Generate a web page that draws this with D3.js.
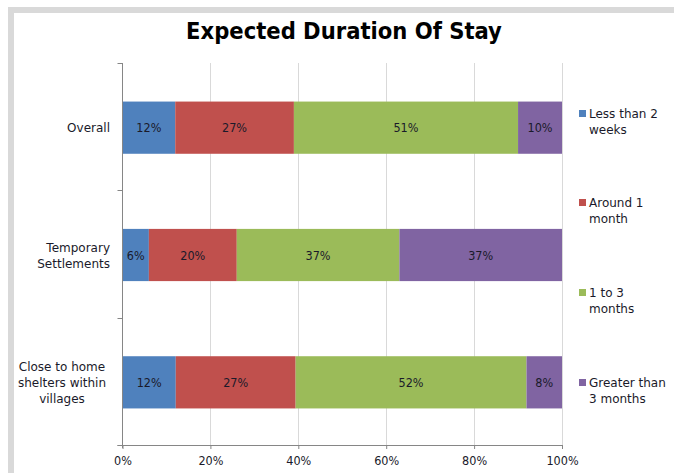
<!DOCTYPE html>
<html><head><meta charset="utf-8">
<script src="https://cdn.jsdelivr.net/npm/d3@7"></script>
<style>
html,body{margin:0;padding:0;background:#fff;}
svg{display:block;font-family:"DejaVu Sans",sans-serif;}
</style></head>
<body>
<script>
const categories = ["Overall", "Temporary Settlements", "Close to home shelters within villages"];
const categoryLines = [["Overall"], ["Temporary", "Settlements"], ["Close to home", "shelters within", "villages"]];
const seriesNames = ["Less than 2 weeks", "Around 1 month", "1 to 3 months", "Greater than 3 months"];
const legendLines = [["Less than 2", "weeks"], ["Around 1", "month"], ["1 to 3", "months"], ["Greater than", "3 months"]];
const lessThan2Weeks = [12, 6, 12];
const around1Month = [27, 20, 27];
const oneTo3Months = [51, 37, 52];
const greaterThan3Months = [10, 37, 8];
const tickValues = [0, 0.2, 0.4, 0.6, 0.8, 1.0];
const colors = ["#4f81bd", "#c0504d", "#9bbb59", "#8064a2"];

(function () {
const W = 674, H = 473;
const cond = "DejaVu Sans Condensed, DejaVu Sans, sans-serif";
const svg = d3.select("body").append("svg").attr("width", W).attr("height", H);

// outer frame
svg.append("rect").attr("x", 11).attr("y", 10).attr("width", W + 20).attr("height", H + 20)
  .attr("fill", "none").attr("stroke", "#d9d9d9").attr("stroke-width", 6);

svg.append("text").attr("x", 344).attr("y", 39).attr("text-anchor", "middle")
  .attr("font-size", 23.5).attr("font-weight", "bold").attr("font-family", cond).attr("fill", "#000")
  .text("Expected Duration Of Stay");

const pLeft = 122.5, pRight = 562, pTop = 63, pBottom = 445;
const x = d3.scaleLinear().domain([0, 1]).range([pLeft, pRight]);
const y = d3.scaleBand().domain(categories).range([pTop + 1, pBottom + 1]).paddingInner(0.59).paddingOuter(0.295);

// gridlines
svg.append("g").selectAll("line").data(tickValues.slice(1)).join("line")
  .attr("x1", d => Math.round(x(d)) + 0.5).attr("x2", d => Math.round(x(d)) + 0.5)
  .attr("y1", pTop).attr("y2", pBottom).attr("stroke", "#d9d9d9").attr("stroke-width", 1);

const series = [lessThan2Weeks, around1Month, oneTo3Months, greaterThan3Months];
const rows = categories.map((c, i) => {
  const o = { cat: c };
  series.forEach((s, j) => o["s" + j] = s[i]);
  return o;
});
const keys = series.map((s, j) => "s" + j);
const stacked = d3.stack().keys(keys).offset(d3.stackOffsetExpand)(rows);

const g = svg.append("g");
stacked.forEach((layer, j) => {
  const lg = g.append("g");
  lg.selectAll("rect").data(layer).join("rect")
    .attr("x", d => x(d[0])).attr("width", d => x(d[1]) - x(d[0]))
    .attr("y", d => y(d.data.cat)).attr("height", y.bandwidth())
    .attr("fill", colors[j]);
  lg.selectAll("text").data(layer).join("text")
    .attr("x", d => (x(d[0]) + x(d[1])) / 2)
    .attr("y", d => y(d.data.cat) + y.bandwidth() / 2 + 4.5)
    .attr("text-anchor", "middle").attr("font-size", 12.5).attr("font-family", cond).attr("fill", "#1a1a2a")
    .text(d => d.data["s" + j] + "%");
});

// y axis
const yAxisG = svg.append("g");
yAxisG.append("line").attr("x1", pLeft).attr("x2", pLeft).attr("y1", pTop).attr("y2", pBottom + 3)
  .attr("stroke", "#868686");
const tickYs = [0, 1, 2, 3].map(i => pTop + i * (pBottom - pTop) / 3);
yAxisG.selectAll("line.t").data(tickYs).join("line").attr("class", "t")
  .attr("x1", pLeft - 5).attr("x2", pLeft).attr("y1", d => Math.round(d) + 0.5).attr("y2", d => Math.round(d) + 0.5).attr("stroke", "#868686");

categories.forEach((c, i) => {
  const lines = categoryLines[i];
  const cy = y(c) + y.bandwidth() / 2;
  const lh = 16;
  lines.forEach((t, k) => {
    svg.append("text").attr("x", i === 2 ? 62 : 110).attr("text-anchor", i === 2 ? "middle" : "end")
      .attr("y", cy + (k - (lines.length - 1) / 2) * lh + 4.5)
      .attr("font-size", 12).attr("fill", "#1a1a2a").text(t);
  });
});

// x axis
const xAxis = d3.axisBottom(x).tickValues(tickValues).tickFormat(d3.format(".0%")).tickSize(4).tickPadding(7);
const xg = svg.append("g").attr("transform", `translate(0,${pBottom})`).call(xAxis);
xg.select(".domain").attr("stroke", "#868686").attr("d", `M${pLeft - 5},0.5H${pRight}`);
xg.selectAll(".tick line").attr("stroke", "#868686");
xg.selectAll(".tick text").attr("font-size", 12.5).attr("fill", "#1a1a2a").attr("font-family", cond);

// legend
const legendY = [118, 207, 297, 387];
seriesNames.forEach((n, j) => {
  const lgp = svg.append("g");
  lgp.append("rect").attr("x", 579).attr("y", legendY[j] - 8).attr("width", 7).attr("height", 7).attr("fill", colors[j]);
  legendLines[j].forEach((t, k) => {
    lgp.append("text").attr("x", 589).attr("y", legendY[j] + k * 16).attr("font-size", 12)
      .attr("fill", "#1a1a2a").text(t);
  });
});
})();
</script>
</body></html>
